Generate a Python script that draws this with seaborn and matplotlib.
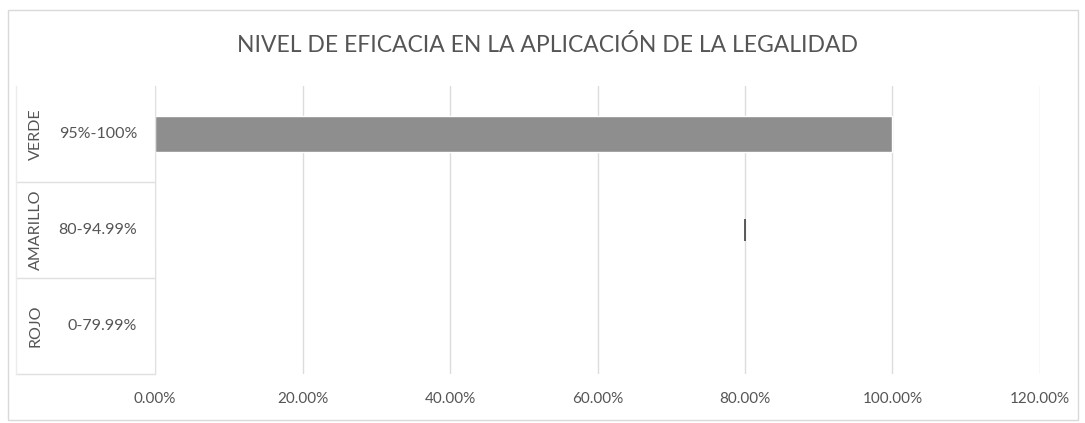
import matplotlib
matplotlib.use("Agg")
import matplotlib.pyplot as plt
import matplotlib.transforms as mtransforms
from matplotlib.lines import Line2D
from matplotlib.patches import Rectangle
from matplotlib.ticker import PercentFormatter
import numpy as np
import pandas as pd
import seaborn as sns

# datos
niveles = ["VERDE", "AMARILLO", "ROJO"]
rangos = ["95%-100%", "80-94.99%", "0-79.99%"]
valores = [1.00, 0.0, 0.0]
marca = [np.nan, 0.80, np.nan]   # trazo fino que aparece en AMARILLO
xticks = [0.0, 0.2, 0.4, 0.6, 0.8, 1.0, 1.2]

df = pd.DataFrame({"nivel": niveles, "rango": rangos, "valor": valores, "marca": marca})

sns.set_style("white")
plt.rcParams["font.family"] = ["Lato", "DejaVu Sans"]
gris_texto = "#555555"

fig = plt.figure(figsize=(10.85, 4.23), dpi=100)
ax = fig.add_axes([0.1429, 0.116, 0.9585 - 0.1429, 0.797 - 0.116])

sns.barplot(data=df, x="valor", y="nivel", order=niveles, color="#8e8e8e",
            width=0.375, orient="h", ax=ax, saturation=1)
sns.scatterplot(data=df, x="marca", y="nivel", marker="|", s=260, linewidth=1.2,
                color="#404040", ax=ax, legend=False)

ax.set_xlim(0, 1.2)
ax.set_ylim(2.5, -0.5)
ax.set_xticks(xticks)
ax.xaxis.set_major_formatter(PercentFormatter(1.0, decimals=2))
ax.tick_params(axis="x", length=0, pad=13, labelsize=11, labelcolor=gris_texto)
ax.tick_params(axis="y", length=0, labelleft=False)
ax.grid(axis="x", color="#dcdcdc", linewidth=1)
ax.set_axisbelow(True)
ax.set_xlabel("")
ax.set_ylabel("")
for lado in ["top", "right", "bottom"]:
    ax.spines[lado].set_visible(False)
ax.spines["left"].set_color("#e0e0e0")

# etiquetas de categoria en dos niveles
trans = mtransforms.blended_transform_factory(ax.transAxes, ax.transData)
for i, (nivel, rango) in enumerate(zip(niveles, rangos)):
    ax.text(-0.0203, i, rango, transform=trans, ha="right", va="center",
            fontsize=11.5, color=gris_texto)
    ax.text(-0.135, i, nivel, transform=trans, ha="center", va="center",
            rotation=90, fontsize=11.5, color=gris_texto)
for y in [0.5, 1.5, 2.5]:
    ax.add_line(Line2D([-0.157, 0], [y, y], transform=trans, color="#e0e0e0",
                       linewidth=1, clip_on=False))
ax.add_line(Line2D([-0.157, -0.157], [-0.5, 2.5], transform=trans, color="#ececec",
                   linewidth=1, clip_on=False))

fig.text(0.505, 0.894, "NIVEL DE EFICACIA EN LA APLICACIÓN DE LA LEGALIDAD",
         ha="center", va="center", fontsize=16.5, color=gris_texto)

# borde del area del grafico
fig.patches.append(Rectangle((0.0075, 0.0075), 0.986, 0.968, transform=fig.transFigure,
                             fill=False, edgecolor="#d9d9d9", linewidth=1))

fig.savefig("out.png", dpi=100)
